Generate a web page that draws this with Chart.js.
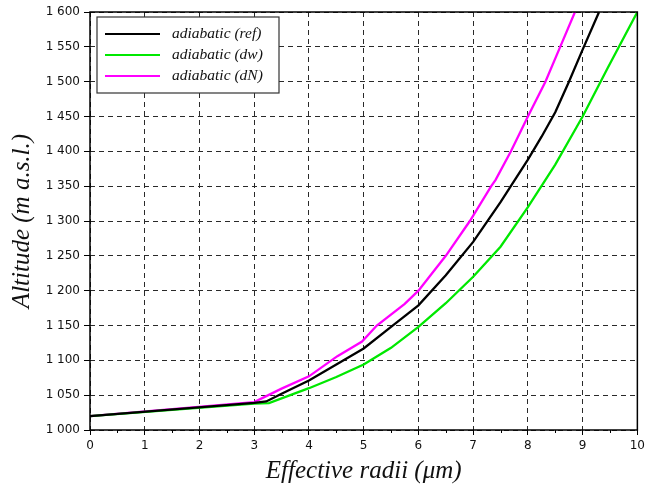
<!DOCTYPE html>
<html>
<head>
<meta charset="utf-8">
<script src="https://cdn.jsdelivr.net/npm/chart.js@4.4.0/dist/chart.umd.min.js"></script>
<style>
  html, body { margin: 0; padding: 0; background: #fff; }
  #wrap { width: 649px; height: 491px; }
</style>
</head>
<body>
<div id="wrap"><canvas id="radiiChart" width="649" height="491"></canvas></div>
<script>
// series names and colours
const seriesNames = ['adiabatic (ref)', 'adiabatic (dw)', 'adiabatic (dN)'];
const seriesColors = ['#000000', 'rgb(0,232,0)', '#ff00ff'];

// effective radius (µm) / altitude (m) for each series
const refRadius = [0, 3.0, 3.22, 3.5, 4.0, 4.5, 5.0, 5.5, 6.0, 6.5, 7.0, 7.5, 8.0, 8.25, 8.5, 8.75, 9.0, 9.3];
const refAltitude = [1020, 1039, 1041, 1052, 1071, 1094, 1117, 1148, 1179, 1222, 1270, 1327, 1388, 1421, 1456, 1500, 1546, 1600];

const dwRadius = [0, 3.0, 3.27, 4.0, 4.5, 5.0, 5.5, 6.0, 6.5, 7.0, 7.5, 8.0, 8.5, 9.0, 9.46, 10.0];
const dwAltitude = [1020, 1038, 1038.5, 1060, 1076, 1094, 1118, 1148, 1182, 1220, 1263, 1320, 1381, 1450, 1520, 1600];

const dnRadius = [0, 3.0, 3.49, 4.0, 4.52, 4.97, 5.24, 5.75, 6.0, 6.5, 6.94, 7.33, 7.41, 7.69, 8.0, 8.32, 8.59, 8.86];
const dnAltitude = [1020, 1040, 1059, 1077, 1106, 1127, 1150, 1181, 1200, 1250, 1300, 1350, 1359, 1400, 1450, 1500, 1550, 1600];

// axes
const xMin = 0, xMax = 10, xStep = 1;
const yMin = 1000, yMax = 1600, yStep = 50;
const xTitle = 'Effective radii (\u03bcm)';
const yTitle = 'Altitude (m a.s.l.)';

function toPoints(xs, ys) {
  return xs.map((x, i) => ({ x: x, y: ys[i] }));
}

// thousands with a space, like "1 050"
function spaced(v) {
  return String(v).replace(/\B(?=(\d{3})+(?!\d))/g, ' ');
}

// plot frame + minor ticks on x
const framePlugin = {
  id: 'frame',
  afterDatasetsDraw(chart) {
    const { ctx, chartArea: a, scales } = chart;
    ctx.save();
    ctx.strokeStyle = '#000';
    ctx.lineWidth = 1;
    ctx.setLineDash([]);
    const xs = scales.x;
    for (let v = xMin + xStep / 2; v < xMax; v += xStep) {
      const px = Math.round(xs.getPixelForValue(v)) + 0.5;
      ctx.beginPath();
      ctx.moveTo(px, a.bottom);
      ctx.lineTo(px, a.bottom + 3);
      ctx.stroke();
    }
    ctx.lineWidth = 1.5;
    ctx.strokeRect(a.left, a.top, a.right - a.left, a.bottom - a.top);
    ctx.restore();
  }
};

// boxed legend inside the plot, top left
const boxLegend = {
  id: 'boxLegend',
  afterDraw(chart) {
    const { ctx, chartArea: a } = chart;
    const bx = a.left + 7, by = a.top + 5, bw = 182, bh = 76;
    ctx.save();
    ctx.fillStyle = '#fff';
    ctx.fillRect(bx, by, bw, bh);
    ctx.strokeStyle = '#333';
    ctx.lineWidth = 1.2;
    ctx.strokeRect(bx, by, bw, bh);
    ctx.font = 'italic 15.5px "Liberation Serif"';
    ctx.textBaseline = 'middle';
    chart.data.datasets.forEach((ds, i) => {
      const y = by + 17 + i * 21;
      ctx.strokeStyle = ds.borderColor;
      ctx.lineWidth = 2.2;
      ctx.beginPath();
      ctx.moveTo(bx + 8, y);
      ctx.lineTo(bx + 63, y);
      ctx.stroke();
      ctx.fillStyle = '#111';
      ctx.fillText(ds.label, bx + 75, y);
    });
    ctx.restore();
  }
};

const ctx = document.getElementById('radiiChart').getContext('2d');

const radiiChart = new Chart(ctx, {
  type: 'line',
  data: {
    datasets: [
      { label: seriesNames[0], data: toPoints(refRadius, refAltitude), borderColor: seriesColors[0] },
      { label: seriesNames[1], data: toPoints(dwRadius, dwAltitude), borderColor: seriesColors[1] },
      { label: seriesNames[2], data: toPoints(dnRadius, dnAltitude), borderColor: seriesColors[2] }
    ]
  },
  options: {
    responsive: false,
    animation: false,
    layout: { padding: { top: 12, right: 7, left: 0, bottom: 0 } },
    elements: {
      line: { borderWidth: 2.3, tension: 0, fill: false },
      point: { radius: 0 }
    },
    plugins: {
      legend: { display: false },
      tooltip: { enabled: false }
    },
    scales: {
      x: {
        type: 'linear',
        min: xMin,
        max: xMax,
        ticks: {
          stepSize: xStep,
          color: '#111',
          font: { family: 'DejaVu Sans', size: 12 },
          padding: 4,
          maxRotation: 0
        },
        grid: { color: '#2a2a2a', lineWidth: 1, tickLength: 5, tickColor: '#000' },
        border: { display: false, dash: [5, 4] },
        title: {
          display: true,
          text: xTitle,
          color: '#111',
          font: { family: 'Liberation Serif', style: 'italic', size: 25 },
          padding: { top: 4, bottom: 5 }
        },
        afterFit(s) { s.height = 61; }
      },
      y: {
        type: 'linear',
        min: yMin,
        max: yMax,
        ticks: {
          stepSize: yStep,
          color: '#111',
          font: { family: 'DejaVu Sans', size: 12 },
          padding: 4,
          callback: (v) => spaced(v)
        },
        grid: { color: '#2a2a2a', lineWidth: 1, tickLength: 6, tickColor: '#000' },
        border: { display: false, dash: [5, 4] },
        title: {
          display: true,
          text: yTitle,
          color: '#111',
          font: { family: 'Liberation Serif', style: 'italic', size: 25 },
          padding: { top: 7, bottom: 4 }
        },
        afterFit(s) { s.width = 90; }
      }
    }
  },
  plugins: [framePlugin, boxLegend]
});
</script>
</body>
</html>
